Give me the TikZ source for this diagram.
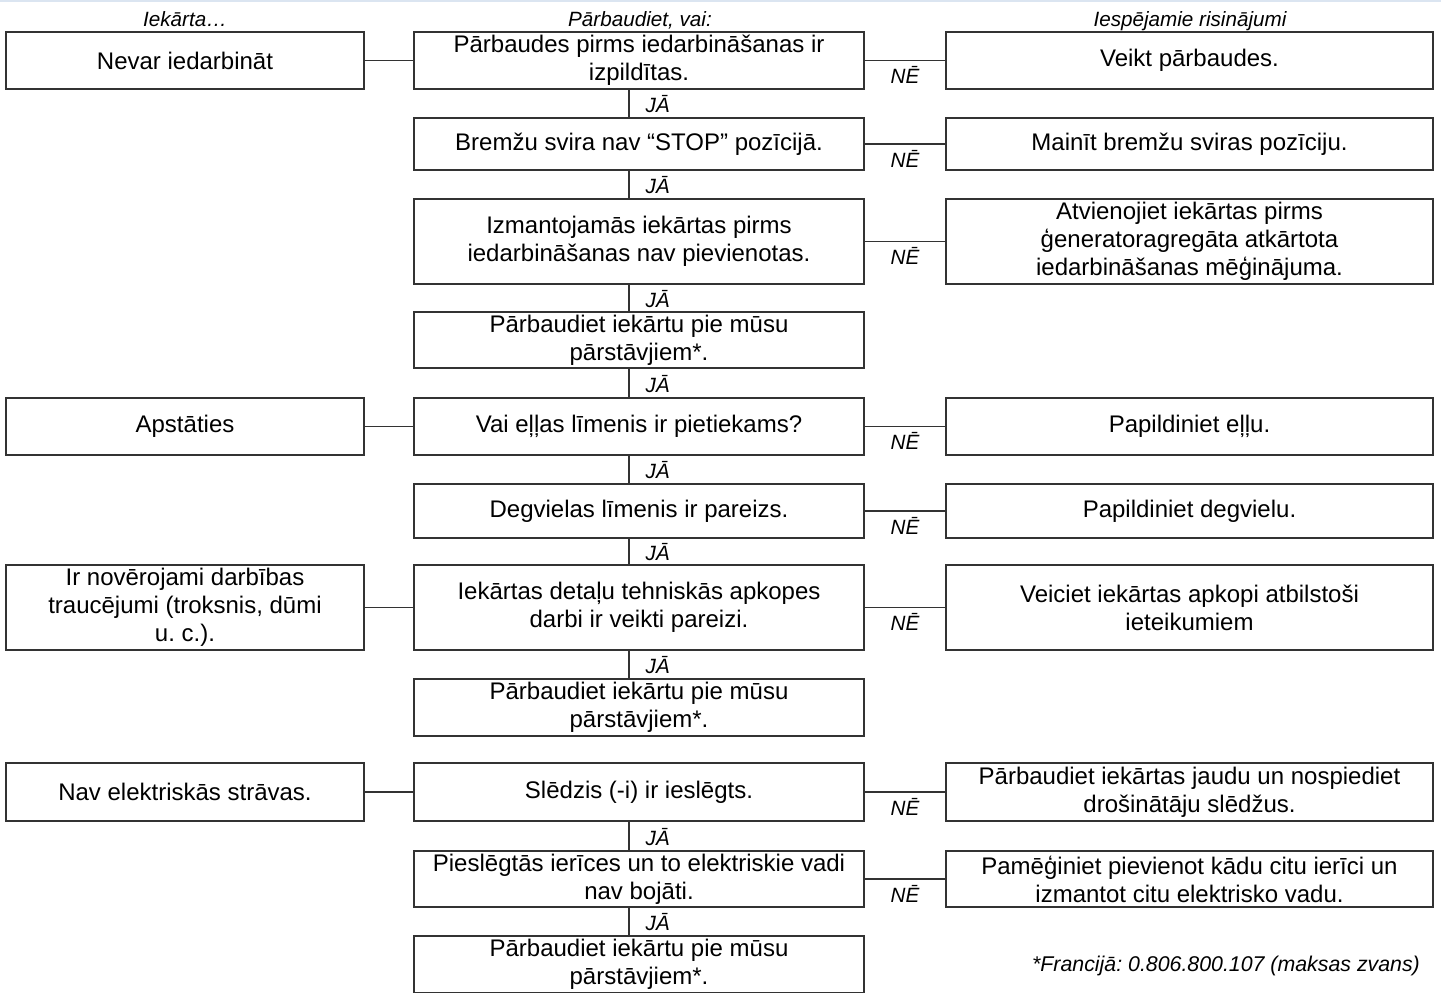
\documentclass[tikz,border=0pt]{standalone}
\usepackage{fontspec}
\setmainfont{Liberation Sans}
\usepackage{tikz}
\usetikzlibrary{positioning}
\frenchspacing
\definecolor{framegray}{RGB}{51,51,51}
\definecolor{topline}{RGB}{219,229,241}
\tikzset{
  box/.style={draw=framegray, line width=1.1pt, inner sep=2pt, align=center,
    font=\fontsize{18}{21}\selectfont},
  leftbox/.style={box, minimum width=268.5pt},
  midbox/.style={box, minimum width=337.5pt},
  rightbox/.style={box, minimum width=365.25pt},
  rowh/.style={minimum height=#1*0.75pt},
  link/.style={draw=framegray, line width=1.1pt},
  answer/.style={font=\fontsize{15.5}{18}\selectfont\itshape, inner sep=0pt},
  heading/.style={font=\fontsize{15.5}{18}\selectfont\itshape, inner sep=0pt, anchor=base}
}

\begin{document}
\begin{tikzpicture}[x=0.75pt, y=-0.75pt]
    \useasboundingbox (0,0) rectangle (1441,992);
    \draw[topline, line width=1.5pt] (0,0.5) -- (1441,0.5);

    % Column headings
    \node[heading] (hd1) at (185,26.5) {Iekārta…};
    \node[heading] (hd2) at (640,26.5) {Pārbaudiet, vai:};
    \node[heading] (hd3) at (1190,26.5) {Iespējamie risinājumi};

    % Cannot start
    \node[leftbox, rowh=57] (l1) at (185,60.5) {Nevar iedarbināt};
    \node[midbox, rowh=57] (m1) at (639,60.5) {Pārbaudes pirms iedarbināšanas ir\\izpildītas.};
    \node[rightbox, rowh=57] (r1) at (1189.5,60.5) {Veikt pārbaudes.};
    \node[midbox, rowh=52] (m2) at (639,144) {Bremžu svira nav “STOP” pozīcijā.};
    \node[rightbox, rowh=52] (r2) at (1189.5,144) {Mainīt bremžu sviras pozīciju.};
    \node[midbox, rowh=85] (m3) at (639,241.5) {Izmantojamās iekārtas pirms\\iedarbināšanas nav pievienotas.};
    \node[rightbox, rowh=85] (r3) at (1189.5,241.5) {Atvienojiet iekārtas pirms\\ģeneratoragregāta atkārtota\\iedarbināšanas mēģinājuma.};
    \node[midbox, rowh=56] (m4) at (639,340) {Pārbaudiet iekārtu pie mūsu\\pārstāvjiem*.};

    % Stops
    \node[leftbox, rowh=57] (l5) at (185,426.5) {Apstāties};
    \node[midbox, rowh=57] (m5) at (639,426.5) {Vai eļļas līmenis ir pietiekams?};
    \node[rightbox, rowh=57] (r5) at (1189.5,426.5) {Papildiniet eļļu.};
    \node[midbox, rowh=54] (m6) at (639,511) {Degvielas līmenis ir pareizs.};
    \node[rightbox, rowh=54] (r6) at (1189.5,511) {Papildiniet degvielu.};

    % Faults
    \node[leftbox, rowh=85] (l7) at (185,607.5) {Ir novērojami darbības\\traucējumi (troksnis, dūmi\\u. c.).};
    \node[midbox, rowh=85] (m7) at (639,607.5) {Iekārtas detaļu tehniskās apkopes\\darbi ir veikti pareizi.};
    \node[rightbox, rowh=85] (r7) at (1189.5,607.5) {Veiciet iekārtas apkopi atbilstoši\\ieteikumiem};
    \node[midbox, rowh=57] (m8) at (639,707.5) {Pārbaudiet iekārtu pie mūsu\\pārstāvjiem*.};

    % No current
    \node[leftbox, rowh=58] (l9) at (185,792) {Nav elektriskās strāvas.};
    \node[midbox, rowh=58] (m9) at (639,792) {Slēdzis (-i) ir ieslēgts.};
    \node[rightbox, rowh=58] (r9) at (1189.5,792) {Pārbaudiet iekārtas jaudu un nospiediet\\drošinātāju slēdžus.};
    \node[midbox, rowh=56] (m10) at (639,879) {Pieslēgtās ierīces un to elektriskie vadi\\nav bojāti.};
    \node[rightbox, rowh=56] (r10) at (1189.5,879) {Pamēģiniet pievienot kādu citu ierīci un\\izmantot citu elektrisko vadu.};
    \node[midbox, rowh=57] (m11) at (639,964.5) {Pārbaudiet iekārtu pie mūsu\\pārstāvjiem*.};

    \node[answer, font=\fontsize{16}{19}\selectfont\itshape] (note) at (1226,966) {*Francijā: 0.806.800.107 (maksas zvans)};

    % Connectors
    \foreach \a/\b in {l1/m1, l5/m5, l7/m7, l9/m9} {
        \draw[link] (\a.east) -- (\b.west);
    }
    \foreach \a/\b in {m1/r1, m2/r2, m3/r3, m5/r5, m6/r6, m7/r7, m9/r9, m10/r10} {
        \draw[link] (\a.east) -- node[answer, yshift=-11pt] {NĒ} (\b.west);
    }
    \foreach \a/\b in {m1/m2, m2/m3, m3/m4, m4/m5, m5/m6, m6/m7, m7/m8, m9/m10, m10/m11} {
        \draw[link] ([xshift=-7.5pt]\a.south) -- node[answer, right=12pt, yshift=-0.5pt] {JĀ} ([xshift=-7.5pt]\b.north);
    }
\end{tikzpicture}
\end{document}
